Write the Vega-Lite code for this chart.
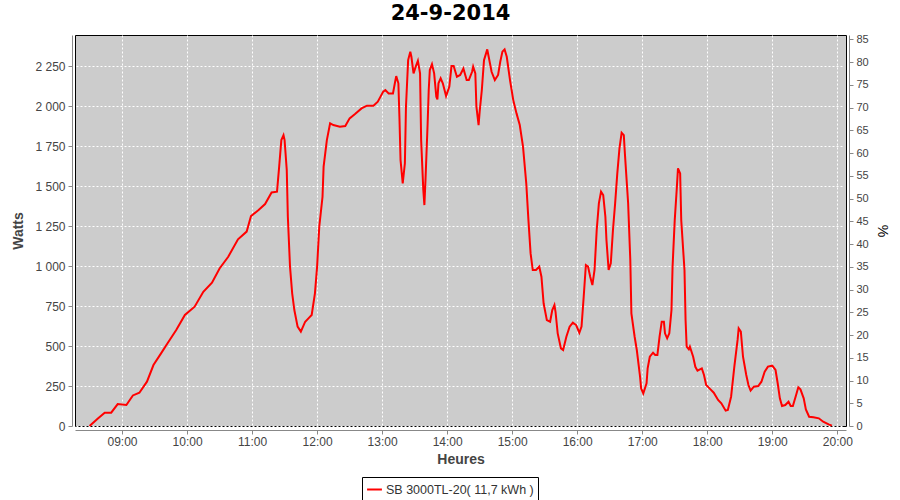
{
  "$schema": "https://vega.github.io/schema/vega-lite/v6.json",
  "autosize": "none",
  "width": 771,
  "height": 391,
  "padding": {"left": 75, "top": 35, "right": 54, "bottom": 74},
  "background": "#ffffff",
  "title": {"text": "24-9-2014", "font": "DejaVu Sans", "fontSize": 21, "fontWeight": "bold", "color": "#000000", "anchor": "middle", "offset": 9, "dx": -10},
  "config": {
    "locale": {"number": {"decimal": ",", "thousands": " ", "grouping": [3], "currency": ["", " €"]}},
    "view": {"fill": "#cccccc", "stroke": "#000000", "strokeWidth": 1},
    "axis": {"labelFont": "Liberation Sans", "labelFontSize": 12, "labelColor": "#444444", "titleFont": "Liberation Sans", "titleFontSize": 14, "titleFontWeight": "bold", "titleColor": "#444444", "domainColor": "#888888", "tickColor": "#888888", "tickSize": 4, "offset": 3, "gridColor": "#ffffff", "gridDash": [2, 2], "gridWidth": 1, "gridOpacity": 1}
  },
  "layer": [
    {
      "data": {
        "values": [
          {"t":"2014-09-24T08:30","w":0},{"t":"2014-09-24T08:38","w":48},{"t":"2014-09-24T08:44","w":83},{"t":"2014-09-24T08:50","w":83},{"t":"2014-09-24T08:56","w":137},
          {"t":"2014-09-24T09:04","w":131},{"t":"2014-09-24T09:10","w":191},{"t":"2014-09-24T09:16","w":208},{"t":"2014-09-24T09:23","w":277},{"t":"2014-09-24T09:29","w":381},
          {"t":"2014-09-24T09:36","w":454},{"t":"2014-09-24T09:42","w":517},{"t":"2014-09-24T09:50","w":600},{"t":"2014-09-24T09:58","w":694},{"t":"2014-09-24T10:07","w":746},
          {"t":"2014-09-24T10:15","w":839},{"t":"2014-09-24T10:23","w":896},{"t":"2014-09-24T10:30","w":985},{"t":"2014-09-24T10:38","w":1058},{"t":"2014-09-24T10:47","w":1167},
          {"t":"2014-09-24T10:55","w":1215},{"t":"2014-09-24T10:59","w":1312},{"t":"2014-09-24T11:06","w":1350},{"t":"2014-09-24T11:12","w":1387},{"t":"2014-09-24T11:18","w":1460},
          {"t":"2014-09-24T11:23","w":1465},{"t":"2014-09-24T11:25","w":1621},{"t":"2014-09-24T11:27","w":1787},{"t":"2014-09-24T11:29","w":1818},{"t":"2014-09-24T11:30","w":1787},
          {"t":"2014-09-24T11:32","w":1600},{"t":"2014-09-24T11:33","w":1308},{"t":"2014-09-24T11:35","w":996},{"t":"2014-09-24T11:37","w":829},{"t":"2014-09-24T11:39","w":725},
          {"t":"2014-09-24T11:42","w":621},{"t":"2014-09-24T11:45","w":590},{"t":"2014-09-24T11:49","w":652},{"t":"2014-09-24T11:52","w":673},{"t":"2014-09-24T11:55","w":694},
          {"t":"2014-09-24T11:58","w":829},{"t":"2014-09-24T12:00","w":996},{"t":"2014-09-24T12:02","w":1246},{"t":"2014-09-24T12:05","w":1433},{"t":"2014-09-24T12:06","w":1621},
          {"t":"2014-09-24T12:09","w":1787},{"t":"2014-09-24T12:12","w":1892},{"t":"2014-09-24T12:15","w":1881},{"t":"2014-09-24T12:21","w":1871},{"t":"2014-09-24T12:26","w":1875},
          {"t":"2014-09-24T12:30","w":1923},{"t":"2014-09-24T12:35","w":1950},{"t":"2014-09-24T12:41","w":1985},{"t":"2014-09-24T12:46","w":2002},{"t":"2014-09-24T12:52","w":2002},
          {"t":"2014-09-24T12:56","w":2027},{"t":"2014-09-24T13:01","w":2090},{"t":"2014-09-24T13:03","w":2100},{"t":"2014-09-24T13:06","w":2079},{"t":"2014-09-24T13:10","w":2079},
          {"t":"2014-09-24T13:12","w":2152},{"t":"2014-09-24T13:13","w":2187},{"t":"2014-09-24T13:15","w":2142},{"t":"2014-09-24T13:16","w":1923},{"t":"2014-09-24T13:17","w":1662},
          {"t":"2014-09-24T13:19","w":1517},{"t":"2014-09-24T13:21","w":1642},{"t":"2014-09-24T13:22","w":1996},{"t":"2014-09-24T13:24","w":2287},{"t":"2014-09-24T13:26","w":2340},
          {"t":"2014-09-24T13:27","w":2308},{"t":"2014-09-24T13:29","w":2204},{"t":"2014-09-24T13:31","w":2246},{"t":"2014-09-24T13:33","w":2283},{"t":"2014-09-24T13:35","w":2204},
          {"t":"2014-09-24T13:36","w":1787},{"t":"2014-09-24T13:38","w":1475},{"t":"2014-09-24T13:39","w":1381},{"t":"2014-09-24T13:40","w":1537},{"t":"2014-09-24T13:42","w":1892},
          {"t":"2014-09-24T13:43","w":2100},{"t":"2014-09-24T13:44","w":2225},{"t":"2014-09-24T13:46","w":2262},{"t":"2014-09-24T13:48","w":2204},{"t":"2014-09-24T13:50","w":2058},
          {"t":"2014-09-24T13:51","w":2042},{"t":"2014-09-24T13:52","w":2142},{"t":"2014-09-24T13:54","w":2173},{"t":"2014-09-24T13:56","w":2142},{"t":"2014-09-24T13:59","w":2062},
          {"t":"2014-09-24T14:02","w":2121},{"t":"2014-09-24T14:04","w":2250},{"t":"2014-09-24T14:06","w":2250},{"t":"2014-09-24T14:09","w":2183},{"t":"2014-09-24T14:12","w":2194},
          {"t":"2014-09-24T14:15","w":2235},{"t":"2014-09-24T14:18","w":2162},{"t":"2014-09-24T14:20","w":2162},{"t":"2014-09-24T14:23","w":2214},{"t":"2014-09-24T14:24","w":2246},
          {"t":"2014-09-24T14:26","w":2204},{"t":"2014-09-24T14:27","w":1996},{"t":"2014-09-24T14:29","w":1881},{"t":"2014-09-24T14:30","w":1965},{"t":"2014-09-24T14:32","w":2100},
          {"t":"2014-09-24T14:34","w":2287},{"t":"2014-09-24T14:37","w":2354},{"t":"2014-09-24T14:38","w":2319},{"t":"2014-09-24T14:41","w":2214},{"t":"2014-09-24T14:44","w":2162},
          {"t":"2014-09-24T14:47","w":2194},{"t":"2014-09-24T14:49","w":2277},{"t":"2014-09-24T14:51","w":2340},{"t":"2014-09-24T14:53","w":2354},{"t":"2014-09-24T14:55","w":2308},
          {"t":"2014-09-24T14:58","w":2162},{"t":"2014-09-24T15:01","w":2037},{"t":"2014-09-24T15:04","w":1954},{"t":"2014-09-24T15:07","w":1881},{"t":"2014-09-24T15:10","w":1746},
          {"t":"2014-09-24T15:13","w":1517},{"t":"2014-09-24T15:15","w":1287},{"t":"2014-09-24T15:17","w":1079},{"t":"2014-09-24T15:19","w":975},{"t":"2014-09-24T15:22","w":975},
          {"t":"2014-09-24T15:25","w":996},{"t":"2014-09-24T15:27","w":933},{"t":"2014-09-24T15:29","w":767},{"t":"2014-09-24T15:32","w":662},{"t":"2014-09-24T15:35","w":652},
          {"t":"2014-09-24T15:37","w":725},{"t":"2014-09-24T15:39","w":756},{"t":"2014-09-24T15:40","w":714},{"t":"2014-09-24T15:42","w":579},{"t":"2014-09-24T15:45","w":485},
          {"t":"2014-09-24T15:47","w":475},{"t":"2014-09-24T15:50","w":558},{"t":"2014-09-24T15:53","w":621},{"t":"2014-09-24T15:56","w":646},{"t":"2014-09-24T15:59","w":631},
          {"t":"2014-09-24T16:02","w":583},{"t":"2014-09-24T16:04","w":621},{"t":"2014-09-24T16:06","w":808},{"t":"2014-09-24T16:08","w":1006},{"t":"2014-09-24T16:10","w":996},
          {"t":"2014-09-24T16:12","w":933},{"t":"2014-09-24T16:14","w":881},{"t":"2014-09-24T16:16","w":975},{"t":"2014-09-24T16:18","w":1225},{"t":"2014-09-24T16:20","w":1392},
          {"t":"2014-09-24T16:22","w":1465},{"t":"2014-09-24T16:24","w":1444},{"t":"2014-09-24T16:26","w":1308},{"t":"2014-09-24T16:27","w":1162},{"t":"2014-09-24T16:29","w":975},
          {"t":"2014-09-24T16:31","w":1017},{"t":"2014-09-24T16:33","w":1225},{"t":"2014-09-24T16:35","w":1392},{"t":"2014-09-24T16:37","w":1579},{"t":"2014-09-24T16:39","w":1735},
          {"t":"2014-09-24T16:41","w":1833},{"t":"2014-09-24T16:43","w":1818},{"t":"2014-09-24T16:44","w":1704},{"t":"2014-09-24T16:47","w":1392},{"t":"2014-09-24T16:49","w":1037},
          {"t":"2014-09-24T16:50","w":704},{"t":"2014-09-24T16:53","w":558},{"t":"2014-09-24T16:55","w":475},{"t":"2014-09-24T16:58","w":308},{"t":"2014-09-24T16:59","w":235},
          {"t":"2014-09-24T17:01","w":204},{"t":"2014-09-24T17:04","w":267},{"t":"2014-09-24T17:05","w":360},{"t":"2014-09-24T17:07","w":433},{"t":"2014-09-24T17:10","w":458},
          {"t":"2014-09-24T17:12","w":444},{"t":"2014-09-24T17:14","w":444},{"t":"2014-09-24T17:16","w":558},{"t":"2014-09-24T17:18","w":652},{"t":"2014-09-24T17:20","w":652},
          {"t":"2014-09-24T17:21","w":579},{"t":"2014-09-24T17:23","w":548},{"t":"2014-09-24T17:25","w":579},{"t":"2014-09-24T17:27","w":725},{"t":"2014-09-24T17:28","w":996},
          {"t":"2014-09-24T17:30","w":1287},{"t":"2014-09-24T17:32","w":1496},{"t":"2014-09-24T17:33","w":1610},{"t":"2014-09-24T17:35","w":1579},{"t":"2014-09-24T17:36","w":1287},
          {"t":"2014-09-24T17:39","w":975},{"t":"2014-09-24T17:40","w":662},{"t":"2014-09-24T17:41","w":496},{"t":"2014-09-24T17:43","w":479},{"t":"2014-09-24T17:44","w":496},
          {"t":"2014-09-24T17:47","w":433},{"t":"2014-09-24T17:49","w":370},{"t":"2014-09-24T17:51","w":346},{"t":"2014-09-24T17:55","w":360},{"t":"2014-09-24T17:57","w":319},
          {"t":"2014-09-24T17:59","w":256},{"t":"2014-09-24T18:03","w":229},{"t":"2014-09-24T18:06","w":208},{"t":"2014-09-24T18:10","w":163},{"t":"2014-09-24T18:13","w":142},
          {"t":"2014-09-24T18:17","w":96},{"t":"2014-09-24T18:19","w":100},{"t":"2014-09-24T18:22","w":183},{"t":"2014-09-24T18:25","w":371},{"t":"2014-09-24T18:28","w":538},
          {"t":"2014-09-24T18:29","w":610},{"t":"2014-09-24T18:31","w":590},{"t":"2014-09-24T18:33","w":433},{"t":"2014-09-24T18:36","w":319},{"t":"2014-09-24T18:38","w":256},
          {"t":"2014-09-24T18:40","w":221},{"t":"2014-09-24T18:43","w":246},{"t":"2014-09-24T18:47","w":250},{"t":"2014-09-24T18:50","w":277},{"t":"2014-09-24T18:53","w":340},
          {"t":"2014-09-24T18:56","w":371},{"t":"2014-09-24T19:00","w":377},{"t":"2014-09-24T19:03","w":350},{"t":"2014-09-24T19:05","w":267},{"t":"2014-09-24T19:07","w":173},
          {"t":"2014-09-24T19:09","w":125},{"t":"2014-09-24T19:12","w":131},{"t":"2014-09-24T19:15","w":152},{"t":"2014-09-24T19:17","w":125},{"t":"2014-09-24T19:19","w":125},
          {"t":"2014-09-24T19:22","w":194},{"t":"2014-09-24T19:24","w":242},{"t":"2014-09-24T19:26","w":229},{"t":"2014-09-24T19:29","w":173},{"t":"2014-09-24T19:31","w":104},
          {"t":"2014-09-24T19:34","w":58},{"t":"2014-09-24T19:38","w":54},{"t":"2014-09-24T19:43","w":48},{"t":"2014-09-24T19:47","w":27},{"t":"2014-09-24T19:52","w":10},
          {"t":"2014-09-24T19:55","w":2}
        ]
      },
      "mark": {"type": "line", "strokeWidth": 2, "interpolate": "linear"},
      "encoding": {
        "x": {
          "field": "t", "type": "temporal", "title": "Heures",
          "scale": {"domain": [{"year": 2014, "month": 9, "date": 24, "hours": 8, "minutes": 16, "seconds": 36}, {"year": 2014, "month": 9, "date": 24, "hours": 20, "minutes": 8, "seconds": 2}]},
          "axis": {"format": "%H:%M", "values": [
            {"year": 2014, "month": 9, "date": 24, "hours": 9}, {"year": 2014, "month": 9, "date": 24, "hours": 10},
            {"year": 2014, "month": 9, "date": 24, "hours": 11}, {"year": 2014, "month": 9, "date": 24, "hours": 12},
            {"year": 2014, "month": 9, "date": 24, "hours": 13}, {"year": 2014, "month": 9, "date": 24, "hours": 14},
            {"year": 2014, "month": 9, "date": 24, "hours": 15}, {"year": 2014, "month": 9, "date": 24, "hours": 16},
            {"year": 2014, "month": 9, "date": 24, "hours": 17}, {"year": 2014, "month": 9, "date": 24, "hours": 18},
            {"year": 2014, "month": 9, "date": 24, "hours": 19}, {"year": 2014, "month": 9, "date": 24, "hours": 20}
          ], "grid": true, "labelPadding": 2, "titlePadding": 5, "offset": 4, "labelFlush": false}
        },
        "y": {
          "field": "w", "type": "quantitative", "title": "Watts",
          "scale": {"domain": [0, 2444], "nice": false},
          "axis": {"orient": "left", "values": [0, 250, 500, 750, 1000, 1250, 1500, 1750, 2000, 2250], "format": ",d", "grid": true, "titlePadding": 9, "labelPadding": 3}
        },
        "color": {
          "datum": "SB 3000TL-20( 11,7 kWh )", "type": "nominal",
          "scale": {"range": ["#ff0000"]},
          "legend": {"title": null, "orient": "none", "legendX": 287, "legendY": 442, "symbolType": "stroke", "symbolStrokeWidth": 2, "symbolSize": 220, "labelFont": "Liberation Sans", "labelFontSize": 12.5, "labelColor": "#333333", "labelOffset": 3, "strokeColor": "#000000", "fillColor": "#ffffff", "padding": 4}
        }
      }
    },
    {
      "data": {"values": [{"p": 0}, {"p": 85}]},
      "mark": {"type": "point", "opacity": 0},
      "encoding": {
        "y": {
          "field": "p", "type": "quantitative", "title": "%",
          "scale": {"domain": [0, 85.95], "nice": false},
          "axis": {"orient": "right", "values": [0,5,10,15,20,25,30,35,40,45,50,55,60,65,70,75,80,85], "labelFontSize": 11, "grid": false, "labelPadding": 3, "titlePadding": 6, "titleFontWeight": "normal", "titleColor": "#000000"}
        }
      }
    }
  ],
  "resolve": {"scale": {"y": "independent"}}
}
